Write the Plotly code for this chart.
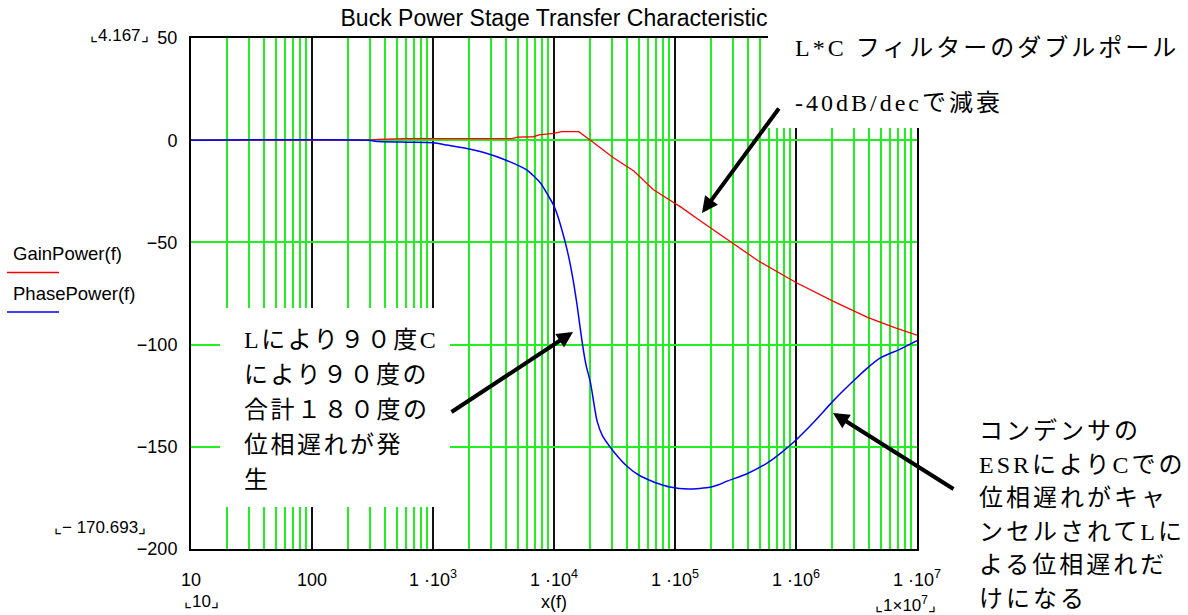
import plotly.graph_objects as go

# ---------------- data ----------------
freq_gain = [10, 100, 300, 350, 600, 1000, 2000, 4500, 5000, 6800, 7500, 10000,
             11500, 16000, 20000, 31000, 45700, 66000, 98000, 110700, 155000,
             195000, 295000, 490000, 1e6, 2e6, 3.9e6, 6.45e6, 1e7]
gain_db = [0, 0, 0, 0.4, 0.8, 0.8, 0.8, 0.8, 1.5, 1.7, 2.6, 3.3,
           4.167, 4.167, 0.0, -8.6, -15.1, -24.1, -30.6, -32.5, -38.7,
           -42.8, -50.1, -59.1, -69.6, -78.6, -86.7, -91.6, -95.4]

freq_phase = [10, 300, 330, 610, 1010, 1300, 1900, 2800, 4070, 5980, 7700, 9000,
              10000, 11000, 12000, 12800, 13650, 14500, 15500, 17100, 18400, 20000,
              22650, 25100, 29200, 33900, 40100, 50100, 63000, 75500, 88500, 130000,
              195000, 229000, 269000, 394000, 594000, 766000, 955000, 1.4e6, 2.04e6,
              2.99e6, 3.86e6, 4.98e6, 7.28e6, 1e7]
phase_deg = [0, 0, -0.5, -1.0, -1.3, -2.4, -4.1, -6.5, -9.9, -14.6, -20.8, -27.3,
             -32.2, -39.0, -46.9, -53.4, -61.0, -69.6, -80.5, -98.9, -110.0, -118.5,
             -137.2, -144.5, -150.2, -155.0, -159.5, -163.8, -166.6, -168.3, -169.5, -170.693,
             -169.8, -168.6, -166.8, -163.2, -157.5, -152.6, -147.8, -138.0, -127.4,
             -117.7, -111.6, -106.5, -102.2, -98.1]

xtick_vals = [10, 100, 1e3, 1e4, 1e5, 1e6, 1e7]
xtick_text = ["10", "100", "1 ·10<sup>3</sup>", "1 ·10<sup>4</sup>", "1 ·10<sup>5</sup>",
              "1 ·10<sup>6</sup>", "1 ·10<sup>7</sup>"]
ytick_vals = [50, 0, -50, -100, -150, -200]

title_text = "Buck Power Stage Transfer Characteristic"
series_names = ["GainPower(f)", "PhasePower(f)"]
note_top = ["L*C フィルターのダブルポール", "-40dB/decで減衰"]
note_left = ["Lにより９０度C", "により９０度の", "合計１８０度の", "位相遅れが発", "生"]
note_right = ["コンデンサの", "ESRによりCでの", "位相遅れがキャ", "ンセルされてLに",
              "よる位相遅れだ", "けになる"]

# ---------------- layout helpers ----------------
W, H = 1188, 615
ML, MR, MT, MB = 191, 271, 38, 66
PW = W - ML - MR
PH = H - MT - MB


def px(x):
    return (x - ML) / PW


def py(y):
    return (H - MB - y) / PH


GREEN = "#22EE22"
SANS = "Liberation Sans, Arial, sans-serif"
JP = "Liberation Serif, Noto Sans CJK JP, serif"

fig = go.Figure()
fig.add_trace(go.Scatter(x=freq_gain, y=gain_db, mode="lines", name=series_names[0],
                         line=dict(color="#FF0000", width=1.3), showlegend=False))
fig.add_trace(go.Scatter(x=freq_phase, y=phase_deg, mode="lines", name=series_names[1],
                         line=dict(color="#0000FF", width=1.5, shape="spline", smoothing=0.6),
                         showlegend=False))

ann = []


def text(x, y, s, size=18, family=SANS, xanchor="left", ls=None):
    if ls is not None:
        s = '<span style="letter-spacing:%spx">%s</span>' % (ls, s)
    ann.append(dict(x=px(x), y=py(y), xref="paper", yref="paper", text=s,
                    showarrow=False, xanchor=xanchor, yanchor="middle",
                    font=dict(family=family, size=size, color="black")))


# legend-like labels
text(11, 253, series_names[0], size=18.5)
text(11, 293, series_names[1], size=18.5)

# Mathcad range markers
text(88, 36, "⌞%.3f⌟" % max(gain_db), size=17)
text(52, 527, "⌞− %.3f⌟" % abs(min(phase_deg)), size=17)
text(182, 601, "⌞%d⌟" % xtick_vals[0], size=17)
text(873, 604, "⌞1×10<sup>7</sup>⌟", size=17)

# axis title
text(554, 602, "x(f)", size=18, xanchor="center")

# Japanese notes
for i, s in enumerate(note_top):
    text(793, 48 + 55 * i, s, size=24, family=JP, ls=3)
for i, s in enumerate(note_left):
    text(242, 340 + 35 * i, s, size=24, family=JP, ls=2.5)
for i, s in enumerate(note_right):
    text(977, 431 + 33.6 * i, s, size=24, family=JP, ls=3)

# arrows (head, tail in pixels)
for (hx, hy, tx, ty) in [(702, 213, 780, 107), (573, 332, 450, 413), (833, 413, 955, 490)]:
    ann.append(dict(x=px(hx), y=py(hy), xref="paper", yref="paper", text="",
                    showarrow=True, ax=tx - hx, ay=ty - hy, arrowhead=2,
                    arrowsize=0.8, arrowwidth=4, arrowcolor="black", standoff=0))

shapes = [
    # white text boxes that hide the grid behind the notes
    dict(type="rect", xref="paper", yref="paper", x0=px(768), x1=px(1188), y0=py(128), y1=py(30),
         fillcolor="white", line=dict(width=0), layer="above"),
    dict(type="rect", xref="paper", yref="paper", x0=px(220), x1=px(450), y0=py(507), y1=py(308),
         fillcolor="white", line=dict(width=0), layer="above"),
    # legend line samples
    dict(type="line", xref="paper", yref="paper", x0=px(7), x1=px(59), y0=py(272.5), y1=py(272.5),
         line=dict(color="#FF0000", width=1.5)),
    dict(type="line", xref="paper", yref="paper", x0=px(7), x1=px(59), y0=py(312), y1=py(312),
         line=dict(color="#0000FF", width=1.5)),
]

fig.update_layout(
    width=W, height=H,
    margin=dict(l=ML, r=MR, t=MT, b=MB),
    paper_bgcolor="white", plot_bgcolor="white",
    title=dict(text=title_text, x=0.5, xref="paper", y=1 - 18 / H, yref="container",
               xanchor="center", yanchor="middle",
               font=dict(family=SANS, size=23, color="black")),
    xaxis=dict(type="log", range=[1, 7], tickmode="array", tickvals=xtick_vals,
               ticktext=xtick_text, showgrid=True, gridcolor="#111111", gridwidth=2,
               showline=True, linecolor="black", linewidth=2, mirror=True, ticks="",
               zeroline=False, ticklabelstandoff=13,
               tickfont=dict(family=SANS, size=18, color="black"),
               minor=dict(dtick="D1", showgrid=True, gridcolor=GREEN, gridwidth=2, ticks="")),
    yaxis=dict(range=[-200, 50], tickmode="array", tickvals=ytick_vals, showgrid=True,
               gridcolor=GREEN, gridwidth=2, showline=True, linecolor="black", linewidth=2,
               mirror=True, ticks="", zeroline=False, ticklabelstandoff=8,
               tickfont=dict(family=SANS, size=18, color="black")),
    annotations=ann,
    shapes=shapes,
)

fig.write_html("out.html")
